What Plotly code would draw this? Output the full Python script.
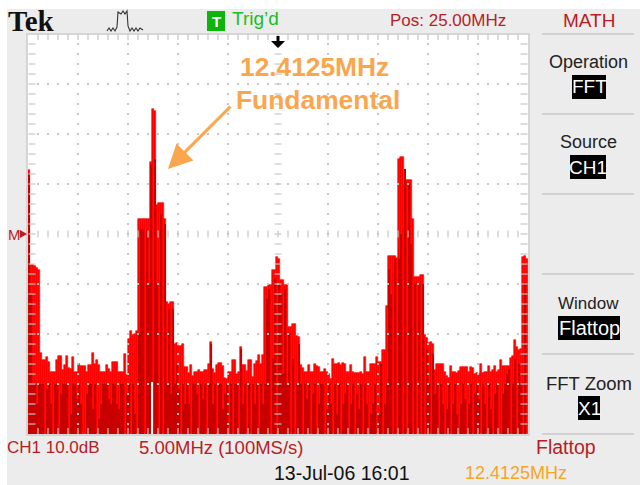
import numpy as np
import plotly.graph_objects as go

W, H = 640, 485
L, R, T, B = 28, 528, 34, 434

freq_step_mhz = 0.2
envelope_db = [
    52.8,33.8,33.8,33.6,33.2,32.8,16.2,14.8,14.8,15.4,
    14.4,12.4,12.4,12.4,14.8,15.6,15.6,12.8,13.8,15.6,
    13.2,13.0,15.4,12.4,12.4,14.0,13.6,13.6,13.6,12.4,
    13.8,13.8,16.2,14.0,14.8,13.8,12.4,12.4,12.4,13.8,
    13.0,12.4,14.4,14.4,14.4,12.4,12.4,12.4,16.0,11.8,
    19,20.6,19.8,20,20.6,43,43,43,43,43,
    43,54.4,65,64.6,45.8,46.2,46.2,46.2,43,26.4,
    26,26.4,26.4,18,18.2,17.6,17.6,18,13.4,13.4,
    12.2,13.8,11.6,12.4,12.4,12.8,12.4,12.4,12.8,12.8,
    14,18.4,13,12.2,13.8,14.2,14.2,13.6,11.2,11,
    12.4,12.4,14.8,14.8,12,12.4,17.4,13.8,13.8,12.6,
    14.8,14.8,11.4,14,14.6,15.8,14,15.8,29.4,29.4,
    29.8,29.8,32.8,32.8,35.4,35,30.8,30.8,29.8,29.8,
    21.4,21.4,22,22,19.6,19.4,13.8,13.2,12.4,12.4,
    13.8,12.4,12.4,14,13.6,13.4,12.4,12.4,13,12.4,
    12,11,15,14,14,14.2,13.8,14.2,14,12.4,
    12.4,13.8,12.4,12.2,12.2,12.2,12.4,12,15.4,12.4,
    12.4,14,14,14,15.4,14.4,14.4,16.8,16.8,25.6,
    35.6,35.6,35.6,35.6,35.2,55,55.4,55.4,50,50.8,
    50.8,50.8,43,31.4,31.4,31.4,31.8,31.8,19.8,19.2,
    18.2,18.4,18,12.8,14,14,14,14,12.4,11.6,
    11.2,13.6,12.4,12.4,12.2,12.6,13.4,13.4,13.4,13.4,
    12.4,13.4,13.2,12,12.2,12,14,12.2,12.4,12.4,
    13.6,12.4,12.8,13.6,12.4,12.8,14.8,13.6,13.6,13.6,
    13.6,15.2,15.6,18.8,17.4,16.8,17,35.4,35.6,35,
]
inner_db = [
    52,28,10,10,6,10,10,10,0,9,
    10,6,0,10,10,0,8,10,10,10,
    0,4,10,10,7,10,6,0,0,8,
    10,10,5,10,0,3,6,10,10,10,
    7,6,10,10,6,5,10,10,0,8,
    10,0,10,4,0,20,41,41,0,41,
    30,54,0,55,30,0,44,0,42,10,
    25,8,25,10,14,9,0,10,6,10,
    6,0,10,10,8,0,10,7,10,0,
    10,18,6,10,0,10,10,5,8,10,
    0,10,0,10,10,0,17,6,10,0,
    10,0,10,6,10,0,10,6,10,27,
    29,0,15,31,0,30,28,12,29,10,
    20,0,15,0,10,18,10,0,10,7,
    10,0,8,10,0,6,10,10,0,5,
    10,6,0,10,4,10,0,6,8,10,
    0,6,10,0,8,5,10,0,10,6,
    0,4,6,10,0,4,14,0,6,10,
    33,28,0,35,0,35,40,0,53,0,
    50,38,0,30,0,30,0,30,0,17,
    10,0,16,8,10,0,10,6,0,5,
    10,0,6,10,4,0,6,10,7,0,
    6,10,0,8,10,7,0,10,6,0,
    10,5,0,8,10,0,0,8,10,12,
    13,0,10,15,0,14,10,0,30,0,
]
gap_freq = [12.37]
gap_top = [10.4]
x_div_mhz = list(range(0, 51, 5))
y_div_db = list(range(0, 81, 10))

freqs = (np.arange(len(envelope_db)) + 0.5) * freq_step_mhz
inner_freqs = (np.arange(len(inner_db)) + 0.5) * freq_step_mhz

RED = "#ff0000"
DARK = "#c80000"
TXT_RED = "#b81c24"
ORANGE = "#f9a64e"
GRID = "#c6c6c6"
PANEL = "#ececec"

fig = go.Figure()
fig.add_bar(x=freqs, y=envelope_db, width=freq_step_mhz,
            marker=dict(color=RED, line=dict(color=RED, width=0.6)))
fig.add_bar(x=inner_freqs, y=inner_db, width=freq_step_mhz, marker=dict(color=DARK, line_width=0))
fig.add_bar(x=gap_freq, y=gap_top, width=0.14, marker=dict(color="#ffffff", line_width=0))

# graticule: dots along major lines, every 1 MHz / 2 dB
xs, ys = [], []
for xd in x_div_mhz[1:-1]:
    if xd != 25:
        for yv in np.arange(2, 80, 2):
            xs.append(xd); ys.append(yv)
for yd in y_div_db[1:-1]:
    if yd != 40:
        for xv in np.arange(1, 50, 1):
            xs.append(xv); ys.append(yd)
fig.add_scatter(x=xs, y=ys, mode="markers", cliponaxis=False,
                marker=dict(symbol="square", size=2, color=GRID, line_width=0))
# centre cross and edge ticks
cx = [25]*39 + [0.4]*39 + [49.6]*39
cy = list(np.arange(2, 80, 2))*3
fig.add_scatter(x=cx, y=cy, mode="markers",
                marker=dict(symbol="line-ew", size=5, color=GRID, line=dict(width=1.2, color=GRID)))
tx = list(np.arange(1, 50, 1))*3
ty = [40]*49 + [0.5]*49 + [79.5]*49
fig.add_scatter(x=tx, y=ty, mode="markers",
                marker=dict(symbol="line-ns", size=5, color=GRID, line=dict(width=1.2, color=GRID)))


def px(x):
    return (x - L) / (R - L)


def py(y):
    return (B - y) / (B - T)


shapes = [
    dict(type="rect", xref="paper", yref="paper", x0=px(7), x1=px(W), y0=py(H), y1=py(9),
         fillcolor=PANEL, line_width=0, layer="below"),
    dict(type="rect", xref="paper", yref="paper", x0=px(L-1), x1=px(R+1), y0=py(B+1), y1=py(T),
         fillcolor="#ffffff", line=dict(color="#cccccc", width=1.5), layer="below"),
]
for y in [34, 114, 194, 274, 354, 434]:
    shapes.append(dict(type="line", xref="paper", yref="paper", x0=px(542), x1=px(634),
                       y0=py(y), y1=py(y), line=dict(color="#c8c8c8", width=1.5)))
# black value boxes and green trigger box
for x0, x1, y0, y1 in [(572, 606, 75, 99), (570, 606, 155, 179), (558, 620, 316, 340), (578, 600, 396, 420)]:
    shapes.append(dict(type="rect", xref="paper", yref="paper", x0=px(x0), x1=px(x1), y0=py(y1), y1=py(y0),
                       fillcolor="#000000", line_width=0))
shapes.append(dict(type="rect", xref="paper", yref="paper", x0=px(207), x1=px(225), y0=py(31), y1=py(11),
                   fillcolor="#0cb40c", line_width=0))
# trigger-waveform icon
wave = [(107, 31), (109, 28), (111, 31), (113, 28), (115, 31), (117, 27), (118, 12), (121, 14), (123, 11), (125, 14),
        (127, 11), (128, 26), (130, 31), (132, 28), (134, 31), (136, 28), (138, 31), (140, 28), (143, 30)]
shapes.append(dict(type="path", xref="paper", yref="paper",
                   path="M " + " L ".join(f"{px(a):.4f},{py(b):.4f}" for a, b in wave),
                   line=dict(color="#333333", width=1.1)))
# trigger-position arrow
shapes.append(dict(type="path", xref="paper", yref="paper",
                   path=f"M {px(276.5):.4f},{py(36):.4f} L {px(279.5):.4f},{py(36):.4f} L {px(279.5):.4f},{py(41):.4f} "
                        f"L {px(285):.4f},{py(41):.4f} L {px(278):.4f},{py(48):.4f} L {px(271):.4f},{py(41):.4f} "
                        f"L {px(276.5):.4f},{py(41):.4f} Z",
                   fillcolor="#000000", line_width=0))
# math marker
shapes.append(dict(type="path", xref="paper", yref="paper",
                   path=f"M {px(20):.4f},{py(230):.4f} L {px(27):.4f},{py(234):.4f} L {px(20):.4f},{py(238):.4f} Z",
                   fillcolor=TXT_RED, line_width=0))


def label(x, y, text, size, color, anchor="left", family="Liberation Sans", bold=False):
    return dict(xref="paper", yref="paper", x=px(x), y=py(y), text=f"<b>{text}</b>" if bold else text,
                showarrow=False, xanchor=anchor, yanchor="middle",
                font=dict(family=family, size=size, color=color))


ann = [
    label(6, 21, "Tek", 29, "#111111", family="Liberation Serif", bold=True),
    label(216, 21, "T", 15, "#ffffff", "center", bold=True),
    label(230, 19, "Trig’d", 19, "#18c028"),
    label(388, 20, "Pos: 25.00MHz", 17, TXT_RED),
    label(589, 20, "MATH", 19, TXT_RED, "center"),
    label(588, 62, "Operation", 18, "#222222", "center"),
    label(589, 87, "FFT", 19, "#ffffff", "center"),
    label(588, 142, "Source", 18, "#222222", "center"),
    label(588, 167, "CH1", 19, "#ffffff", "center"),
    label(588, 303, "Window", 17, "#222222", "center"),
    label(589, 328, "Flattop", 20, "#ffffff", "center"),
    label(589, 383, "FFT Zoom", 18.5, "#222222", "center"),
    label(589, 408, "X1", 19, "#ffffff", "center"),
    label(5, 447, "CH1 10.0dB", 17, TXT_RED),
    label(137, 447, "5.00MHz (100MS/s)", 18.5, TXT_RED),
    label(534, 447, "Flattop", 19.5, TXT_RED),
    label(272, 473, "13-Jul-06 16:01", 19.5, "#111111"),
    label(463, 473, "12.4125MHz", 18, "#f5a623"),
    label(6, 234, "M", 15, TXT_RED),
    label(314, 67, "12.4125MHz", 26.3, ORANGE, "center", bold=True),
    label(318, 100, "Fundamental", 26.4, ORANGE, "center", bold=True),
    dict(xref="paper", yref="paper", axref="pixel", ayref="pixel",
         x=px(168), y=py(169), ax=64, ay=-64, text="", showarrow=True,
         arrowhead=2, arrowsize=1.6, arrowwidth=3, arrowcolor=ORANGE),
]

fig.update_layout(
    width=W, height=H, autosize=False,
    margin=dict(l=L, r=W-R, t=T, b=H-B, pad=0),
    paper_bgcolor="#ffffff", plot_bgcolor="rgba(0,0,0,0)",
    barmode="overlay", bargap=0, showlegend=False,
    xaxis=dict(range=[0, 50], visible=False, fixedrange=True),
    yaxis=dict(range=[0, 80], visible=False, fixedrange=True),
    shapes=shapes, annotations=ann,
)
fig.write_html("out.html", post_script="document.body.style.margin='0';",
               config=dict(displayModeBar=False))
